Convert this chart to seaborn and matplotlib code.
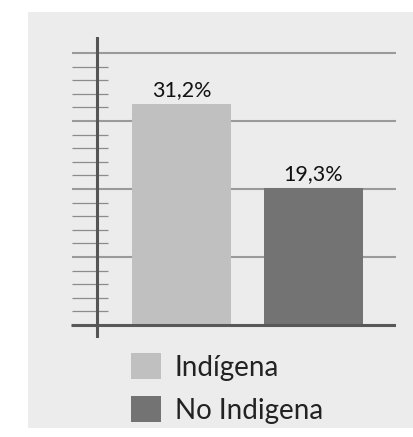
import matplotlib
matplotlib.use("Agg")
import matplotlib.pyplot as plt
from matplotlib.patches import Patch, Rectangle
import seaborn as sns
import pandas as pd

# data
categories = ["Indígena", "No Indigena"]
values = [31.2, 19.3]
bar_colors = ["#c0c0c0", "#737373"]
labels = ["31,2%", "19,3%"]

sns.set_style("white")
plt.rcParams["font.family"] = ["Lato", "DejaVu Sans"]

W, H = 413, 437
fig = plt.figure(figsize=(W / 100, H / 100), dpi=100, facecolor="white")

# grey panel behind everything
fig.patches.append(Rectangle((28 / W, 1 - 428 / H), (W - 28) / W, 416 / H,
                             transform=fig.transFigure, facecolor="#ececec",
                             edgecolor="none", zorder=-10))

ax = fig.add_axes([71 / W, 1 - 338 / H, 325 / W, 301 / H])
ax.set_facecolor("none")

df = pd.DataFrame({"grupo": categories, "pct": values})
sns.barplot(data=df, x="grupo", y="pct", hue="grupo", palette=bar_colors,
            width=0.75, legend=False, ax=ax, saturation=1, zorder=3,
            linewidth=0, edgecolor="none")

px = 7.083  # pixels per unit
ax.set_ylim(-13 / px, 288 / px)
ax.set_xlim(-0.837, 1.625)
ax.axis("off")

step = 9.6
x_left, x_axis, x_minor, x_right = -0.83, -0.64, -0.557, 1.625
# minor ticks
minor_y = [step / 5 * j for j in range(1, 20) if j % 5]
ax.hlines(minor_y, x_left, x_minor, color="#8c8c8c", lw=0.9, zorder=2)
# major lines
ax.hlines([step * k for k in range(1, 5)], x_left, x_right,
          color="#9a9a9a", lw=1.5, zorder=2)
# base line and vertical axis
ax.hlines(0, -0.84, x_right, color="#585858", lw=2.2, zorder=4)
ax.axvline(x_axis, color="#555555", lw=2.2, zorder=4)

bars = [p for c in ax.containers for p in c]
for b, lab in zip(bars, labels):
    ax.annotate(lab, (b.get_x() + b.get_width() / 2, b.get_height()),
                xytext=(0, 3), textcoords="offset points", ha="center",
                va="bottom", fontsize=15.5, color="#111111", zorder=5)

handles = [Patch(facecolor=c, edgecolor="none") for c in bar_colors]
fig.legend(handles, categories, loc="upper left",
           bbox_to_anchor=(131 / W, 1 - 353 / H), frameon=False,
           handlelength=1.08, handleheight=1.08,
           handletextpad=0.5, labelspacing=0.55, borderpad=0,
           borderaxespad=0, prop={"size": 20},
           labelcolor="#222222")

fig.savefig("out.png", dpi=100, facecolor="white")
